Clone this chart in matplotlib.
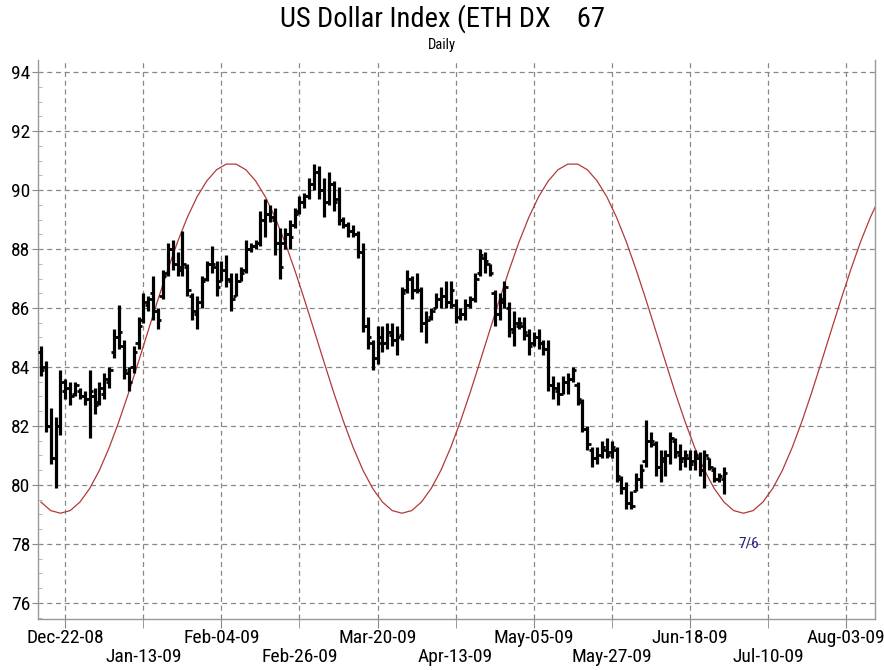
import numpy as np
import matplotlib
matplotlib.use('Agg')
import matplotlib.pyplot as plt
from matplotlib import font_manager

# Daily bars, one per trading day, starting 5 sessions before Dec-22-08
highs = [84.7, 84.2, 82.6, 82.3, 83.9,
         83.6, 83.5, 83.5, 83.3, 83.2, 83.9, 83.3, 83.5, 83.8, 84.0,
         85.3, 86.1, 84.9, 84.0, 84.7, 85.7, 86.5, 86.4, 87.1, 86.0,
         87.3, 88.2, 88.3, 87.9, 88.6, 87.5, 86.5, 86.4, 87.1, 87.6,
         88.1, 87.6, 87.6, 87.8, 87.2, 87.2, 87.4, 88.3, 88.2, 88.3,
         89.3, 89.7, 89.5, 89.4, 88.7, 88.7, 89.0, 89.4, 89.8, 89.9,
         90.4, 90.9, 90.8, 90.4, 90.6, 90.3, 90.1, 89.1, 88.9, 88.8,
         88.6, 88.2, 85.7, 84.9, 85.4, 85.4, 85.5, 85.5, 85.4, 86.7,
         87.3, 87.1, 87.2, 86.7, 85.9, 86.0, 86.5, 86.7, 86.9, 86.9,
         86.3, 86.0, 86.3, 86.4, 87.2, 88.0, 87.9, 87.5, 86.6, 86.5,
         86.9, 86.2, 85.9, 85.7, 85.7, 85.3, 85.2, 85.3, 84.9, 84.9,
         83.7, 83.5, 83.7, 83.8, 84.0, 83.5, 82.9, 82.0, 81.3, 81.3,
         81.5, 81.6, 81.5, 81.3, 80.3, 80.1, 79.8, 80.4, 80.7, 82.2,
         81.8, 81.5, 81.2, 81.2, 81.8, 81.6, 81.4, 81.2, 81.2, 81.2,
         81.1, 81.2, 80.9, 80.6, 80.4, 80.6]
lows = [83.7, 81.8, 80.7, 79.9, 81.7,
        82.9, 82.7, 83.0, 82.9, 82.7, 81.6, 82.4, 82.7, 82.9, 83.3,
        84.3, 84.6, 83.6, 83.2, 83.8, 84.6, 85.5, 85.9, 85.6, 85.3,
        86.3, 87.1, 87.3, 87.1, 87.1, 86.4, 85.6, 85.3, 86.0, 86.9,
        87.2, 86.4, 86.9, 86.7, 85.9, 86.4, 86.9, 87.2, 87.9, 88.0,
        88.1, 88.4, 88.9, 87.8, 87.0, 88.0, 88.0, 88.7, 89.2, 89.4,
        89.7, 90.0, 89.7, 89.1, 89.5, 89.3, 88.8, 88.7, 88.4, 88.4,
        87.7, 85.2, 84.6, 83.9, 84.1, 84.5, 84.6, 84.7, 84.4, 84.9,
        86.5, 86.3, 86.5, 85.2, 84.8, 85.6, 86.0, 86.0, 86.0, 86.0,
        85.5, 85.6, 85.6, 86.0, 86.2, 87.1, 87.2, 87.1, 85.4, 85.6,
        86.0, 85.0, 84.7, 85.3, 84.9, 84.4, 84.7, 84.6, 84.4, 83.2,
        82.9, 82.7, 83.1, 83.1, 83.5, 82.7, 81.8, 81.2, 80.6, 80.7,
        80.9, 80.9, 80.9, 80.1, 79.7, 79.2, 79.2, 79.8, 79.9, 80.6,
        81.3, 80.3, 80.1, 80.3, 80.7, 80.9, 80.5, 80.6, 80.5, 80.5,
        80.3, 79.9, 80.5, 80.1, 80.1, 79.7]
opens = [84.5, 84.0, 82.0, 80.9, 82.0,
         83.2, 83.3, 83.1, 83.2, 83.0, 82.9, 83.0, 82.8, 83.1, 83.5,
         84.5, 85.0, 84.7, 83.8, 84.0, 84.8, 85.6, 86.1, 86.5, 85.9,
         86.4, 87.2, 88.0, 87.5, 87.3, 87.4, 86.4, 85.8, 86.2, 87.0,
         87.5, 87.4, 86.9, 87.3, 86.9, 86.4, 86.9, 87.3, 88.0, 88.1,
         88.2, 89.0, 89.2, 89.0, 88.2, 88.2, 88.5, 88.8, 89.3, 89.6,
         89.8, 90.2, 90.6, 90.0, 89.6, 90.2, 89.7, 89.0, 88.8, 88.6,
         88.5, 87.9, 85.4, 84.8, 84.3, 84.8, 84.8, 85.1, 84.9, 85.1,
         86.6, 87.0, 86.6, 86.6, 85.5, 85.7, 86.0, 86.3, 86.4, 86.2,
         86.1, 85.7, 85.8, 86.1, 86.3, 87.2, 87.7, 87.5, 86.5, 85.8,
         86.2, 86.0, 85.2, 85.4, 85.4, 85.1, 84.8, 85.0, 84.8, 84.6,
         83.4, 83.2, 83.1, 83.5, 83.6, 83.4, 82.8, 81.9, 81.2, 80.9,
         81.0, 81.2, 81.1, 81.2, 80.2, 79.9, 79.4, 79.8, 80.2, 80.8,
         81.5, 81.4, 80.6, 80.8, 81.0, 81.5, 81.0, 80.9, 80.9, 80.8,
         80.9, 80.5, 80.9, 80.5, 80.2, 80.2]
closes = [83.9, 82.0, 80.9, 82.0, 83.5,
          83.3, 83.0, 83.4, 83.0, 82.9, 83.2, 82.7, 83.3, 83.6, 83.9,
          85.0, 85.2, 83.9, 83.5, 84.5, 85.4, 86.2, 86.3, 85.9, 85.6,
          87.1, 88.0, 87.5, 87.4, 87.5, 86.6, 85.9, 86.2, 86.9, 87.5,
          87.5, 86.7, 87.3, 87.0, 86.3, 86.9, 87.2, 88.0, 88.1, 88.2,
          89.0, 89.2, 89.1, 88.2, 87.4, 88.5, 88.4, 89.2, 89.6, 89.8,
          90.2, 90.6, 90.0, 89.6, 90.2, 89.6, 89.0, 88.8, 88.6, 88.5,
          87.9, 85.4, 85.0, 84.3, 85.0, 84.8, 85.2, 84.9, 85.0, 86.5,
          87.0, 86.6, 86.6, 85.5, 85.6, 85.9, 86.3, 86.4, 86.2, 86.6,
          85.7, 85.8, 86.1, 86.3, 87.0, 87.8, 87.6, 87.2, 85.8, 86.3,
          86.7, 85.3, 85.5, 85.5, 85.2, 84.7, 85.0, 84.8, 84.6, 83.4,
          83.3, 83.1, 83.5, 83.6, 83.9, 82.9, 81.9, 81.4, 80.9, 81.0,
          81.3, 81.0, 81.3, 80.3, 79.9, 79.4, 79.3, 80.2, 80.5, 81.5,
          81.5, 80.6, 80.9, 81.0, 81.6, 81.1, 80.8, 81.0, 80.7, 81.0,
          80.5, 81.0, 80.6, 80.2, 80.3, 80.4]

# cycle projection, read every 2 sessions from -5 to 167
cycle = [79.42, 79.13,
         79.04, 79.13, 79.42, 79.88, 80.50, 81.27, 82.16, 83.14, 84.18, 85.24,
         86.29, 87.30, 88.24, 89.07, 89.77, 90.31, 90.69, 90.88, 90.88, 90.69,
         90.31, 89.77, 89.07, 88.24, 87.30, 86.29, 85.24, 84.18, 83.14, 82.16,
         81.27, 80.50, 79.88, 79.42, 79.13,
         79.04, 79.13, 79.42, 79.88, 80.50, 81.27, 82.16, 83.14, 84.18, 85.24,
         86.29, 87.30, 88.24, 89.07, 89.77, 90.31, 90.69, 90.88, 90.88, 90.69,
         90.31, 89.77, 89.07, 88.24, 87.30, 86.29, 85.24, 84.18, 83.14, 82.16,
         81.27, 80.50, 79.88, 79.42, 79.13,
         79.04, 79.13, 79.42, 79.88, 80.50, 81.27, 82.16, 83.14, 84.18, 85.24,
         86.29, 87.30, 88.24, 89.07, 89.77]

date_labels = ['Dec-22-08', 'Jan-13-09', 'Feb-04-09', 'Feb-26-09', 'Mar-20-09',
               'Apr-13-09', 'May-05-09', 'May-27-09', 'Jun-18-09', 'Jul-10-09',
               'Aug-03-09']
y_ticks = [76, 78, 80, 82, 84, 86, 88, 90, 92, 94]

bar_x = np.arange(len(highs)) - 5
cycle_x = np.arange(len(cycle)) * 2 - 5
date_x = np.arange(len(date_labels)) * 16

# pick a narrow face if there is one
narrow = 'DejaVu Sans'
for name in ['Liberation Sans Narrow', 'DejaVu Sans Condensed', 'Roboto Condensed']:
    try:
        font_manager.findfont(name, fallback_to_default=False)
        narrow = name
        break
    except ValueError:
        pass
fam = [narrow, 'DejaVu Sans']
lab_size = 14 if narrow != 'DejaVu Sans' else 11

fig = plt.figure(figsize=(8.84, 6.7), dpi=100)
ax = fig.add_axes([0.043, 0.076, 0.947, 0.834])

# grid
for y in y_ticks:
    ax.axhline(y, color='#888888', lw=0.9, ls=(0, (4, 3)), zorder=1)
for x in date_x:
    ax.axvline(x, color='#888888', lw=0.9, ls=(0, (4, 3)), zorder=1)

# cycle line
ax.plot(cycle_x, cycle, color='#b03a3a', lw=0.9, zorder=2)

# OHLC bars
ax.vlines(bar_x, lows, highs, color='black', lw=2.3, zorder=3)
ax.hlines(opens, bar_x - 0.7, bar_x, color='black', lw=2.0, zorder=3)
ax.hlines(closes, bar_x, bar_x + 0.7, color='black', lw=2.0, zorder=3)

ax.text(140, 78.0, '7/6', color='#22227a', fontsize=11, ha='center', va='center',
        family=fam)

ax.set_xlim(-5.6, 166)
ax.set_ylim(75.45, 94.4)

ax.set_yticks(y_ticks)
ax.set_yticks(np.arange(75.5, 94.4, 0.5), minor=True)
ax.tick_params(axis='y', which='major', direction='out', length=4, pad=1.5,
               labelsize=lab_size, color='#888888')
ax.tick_params(axis='y', which='minor', direction='in', length=3, color='#aaaaaa')

ax.set_xticks(date_x[::2])
ax.set_xticklabels(date_labels[::2])
ax.set_xticks(date_x[1::2], minor=True)
ax.set_xticklabels(date_labels[1::2], minor=True)
ax.tick_params(axis='x', which='both', direction='out', length=6.5,
               labelsize=lab_size, color='#888888')
ax.tick_params(axis='x', which='major', pad=1)
ax.tick_params(axis='x', which='minor', pad=14.5)

for lab in ax.get_xticklabels(which='both') + ax.get_yticklabels():
    lab.set_family(fam)

for side in ['left', 'bottom', 'right']:
    ax.spines[side].set_color('#999999')
    ax.spines[side].set_linewidth(1.0)
ax.spines['top'].set_visible(False)

fig.text(0.5, 0.972, 'US Dollar Index (ETH DX    67', ha='center', va='center',
         fontsize=20.5, family=fam)
fig.text(0.5, 0.933, 'Daily', ha='center', va='center', fontsize=10.5, family=fam)

fig.savefig('out.png', dpi=100)
